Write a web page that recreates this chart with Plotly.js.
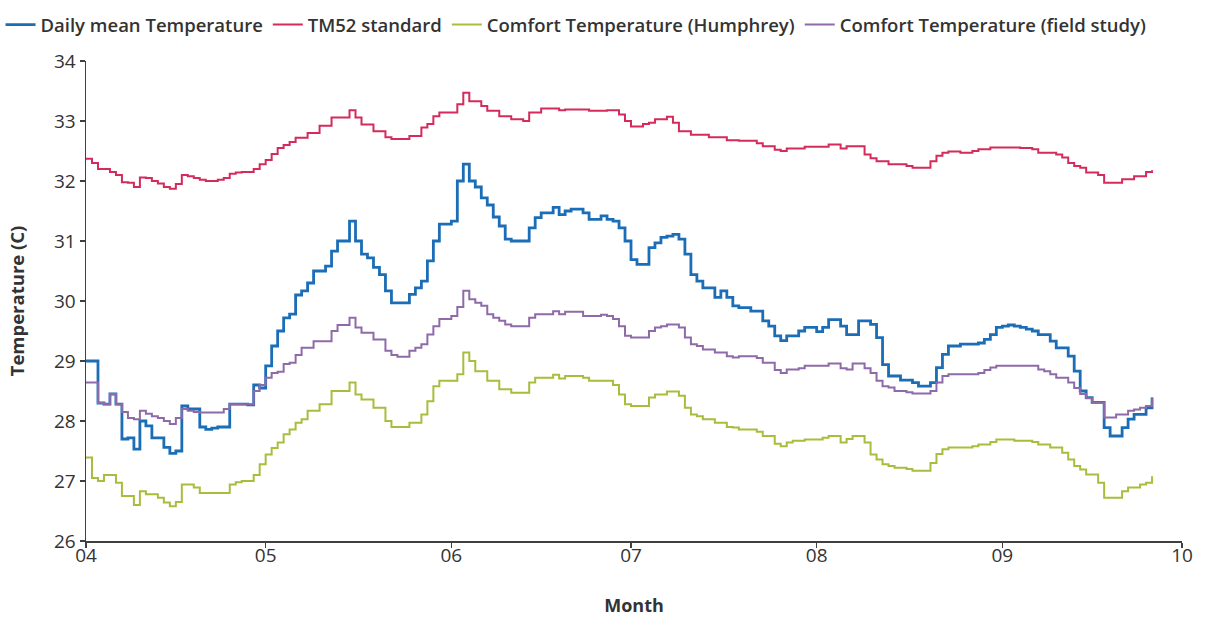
<!DOCTYPE html>
<html>
<head>
<meta charset="utf-8">
<script src="https://cdn.plot.ly/plotly-3.0.1.min.js"></script>
<style>
html,body{margin:0;padding:0;background:#fff;}
#chart{width:1232px;height:617px;}
</style>
</head>
<body>
<div id="chart"></div>
<script>
// Daily series, one value per day starting 1 April
const startDate = '2013-04-01';
const monthTicks = ['2013-04-01','2013-05-01','2013-06-01','2013-07-01','2013-08-01','2013-09-01','2013-10-01'];
const monthLabels = ['04','05','06','07','08','09','10'];

const dailyMean = [
29.0,29.0,28.3,28.28,28.45,28.28,27.7,27.72,27.53,28.0,
27.92,27.72,27.72,27.56,27.46,27.5,28.25,28.2,28.2,27.9,
27.86,27.88,27.9,27.9,28.28,28.28,28.28,28.27,28.6,28.55,
28.92,29.25,29.5,29.72,29.78,30.1,30.17,30.3,30.5,30.5,
30.58,30.83,31.0,31.0,31.33,31.0,30.78,30.72,30.56,30.44,
30.17,29.97,29.97,29.97,30.11,30.22,30.33,30.67,31.0,31.28,
31.28,31.33,32.0,32.28,32.0,31.9,31.72,31.6,31.4,31.25,
31.03,31.0,31.0,31.0,31.22,31.39,31.47,31.47,31.56,31.44,
31.5,31.53,31.53,31.47,31.36,31.36,31.42,31.36,31.33,31.22,
31.0,30.69,30.61,30.61,30.89,30.97,31.06,31.08,31.11,31.03,
30.78,30.44,30.33,30.22,30.22,30.06,30.17,30.06,29.92,29.89,
29.89,29.83,29.83,29.67,29.58,29.42,29.34,29.42,29.42,29.5,
29.56,29.56,29.49,29.56,29.69,29.69,29.58,29.44,29.44,29.67,
29.67,29.61,29.39,28.94,28.75,28.75,28.68,28.68,28.64,28.58,
28.58,28.64,28.89,29.11,29.25,29.25,29.28,29.28,29.28,29.3,
29.36,29.44,29.56,29.58,29.6,29.58,29.56,29.53,29.5,29.44,
29.44,29.33,29.22,29.22,29.08,28.83,28.5,28.39,28.31,28.31,
27.89,27.75,27.75,27.89,28.03,28.11,28.11,28.22,28.39];

const tm52 = [
32.37,32.3,32.2,32.2,32.15,32.1,31.98,31.97,31.9,32.06,
32.05,32.0,31.96,31.9,31.87,31.95,32.1,32.08,32.05,32.02,
32.0,32.0,32.02,32.05,32.12,32.14,32.15,32.15,32.2,32.28,
32.35,32.45,32.55,32.6,32.65,32.72,32.72,32.8,32.8,32.92,
32.92,33.06,33.06,33.06,33.18,33.06,32.94,32.94,32.83,32.83,
32.73,32.7,32.7,32.7,32.75,32.75,32.89,32.95,33.08,33.14,
33.14,33.14,33.28,33.47,33.33,33.33,33.25,33.17,33.17,33.08,
33.08,33.03,33.03,33.0,33.14,33.14,33.21,33.21,33.21,33.18,
33.19,33.19,33.19,33.19,33.17,33.17,33.17,33.18,33.18,33.11,
33.0,32.91,32.91,32.95,32.97,33.03,33.03,33.07,32.97,32.83,
32.83,32.77,32.77,32.77,32.73,32.73,32.73,32.68,32.68,32.67,
32.67,32.67,32.63,32.58,32.58,32.52,32.5,32.54,32.54,32.54,
32.57,32.57,32.57,32.57,32.61,32.61,32.54,32.58,32.58,32.58,
32.44,32.38,32.33,32.33,32.28,32.28,32.28,32.25,32.22,32.22,
32.22,32.33,32.42,32.47,32.49,32.49,32.47,32.47,32.5,32.53,
32.53,32.56,32.56,32.56,32.56,32.56,32.55,32.55,32.53,32.47,
32.47,32.47,32.44,32.39,32.3,32.25,32.22,32.14,32.14,32.1,
31.97,31.97,31.97,32.03,32.03,32.08,32.08,32.15,32.18];

const humphrey = [
27.39,27.05,27.0,27.1,27.1,26.97,26.75,26.75,26.6,26.83,
26.78,26.78,26.72,26.64,26.58,26.65,26.94,26.94,26.89,26.8,
26.8,26.8,26.8,26.8,26.94,26.98,27.0,27.0,27.1,27.28,
27.44,27.55,27.64,27.78,27.86,27.97,28.03,28.17,28.17,28.28,
28.28,28.5,28.5,28.5,28.64,28.44,28.36,28.36,28.22,28.22,
28.0,27.9,27.9,27.9,27.97,27.97,28.11,28.33,28.58,28.67,
28.67,28.67,28.78,29.14,29.0,28.83,28.83,28.67,28.67,28.53,
28.53,28.47,28.47,28.47,28.64,28.72,28.72,28.72,28.77,28.71,
28.75,28.75,28.75,28.72,28.67,28.67,28.67,28.67,28.6,28.44,
28.28,28.25,28.25,28.25,28.39,28.44,28.44,28.49,28.49,28.42,
28.22,28.11,28.08,28.03,28.03,27.97,27.97,27.9,27.89,27.86,
27.86,27.86,27.82,27.75,27.75,27.62,27.58,27.64,27.67,27.67,
27.69,27.69,27.69,27.72,27.75,27.75,27.64,27.7,27.75,27.75,
27.64,27.44,27.36,27.28,27.25,27.22,27.22,27.2,27.17,27.17,
27.17,27.3,27.45,27.53,27.56,27.56,27.56,27.56,27.58,27.61,
27.61,27.65,27.69,27.69,27.69,27.67,27.67,27.67,27.65,27.61,
27.61,27.56,27.56,27.47,27.36,27.25,27.19,27.11,27.11,26.97,
26.72,26.72,26.72,26.83,26.89,26.89,26.94,26.97,27.08];

const fieldStudy = [
28.64,28.64,28.3,28.28,28.45,28.28,28.15,28.05,28.03,28.17,
28.12,28.08,28.05,28.0,27.95,28.05,28.2,28.17,28.15,28.14,
28.14,28.14,28.14,28.2,28.28,28.28,28.28,28.28,28.5,28.6,
28.72,28.8,28.82,28.95,28.97,29.1,29.22,29.22,29.33,29.33,
29.33,29.5,29.6,29.6,29.72,29.56,29.47,29.47,29.36,29.36,
29.17,29.1,29.07,29.07,29.17,29.22,29.28,29.44,29.58,29.7,
29.7,29.75,29.9,30.17,30.03,29.97,29.92,29.78,29.72,29.67,
29.61,29.58,29.58,29.58,29.72,29.78,29.78,29.78,29.83,29.78,
29.82,29.82,29.82,29.75,29.75,29.75,29.77,29.75,29.7,29.58,
29.42,29.39,29.39,29.39,29.5,29.56,29.58,29.61,29.61,29.56,
29.39,29.28,29.25,29.19,29.19,29.14,29.14,29.08,29.06,29.08,
29.08,29.08,29.05,28.97,28.97,28.85,28.8,28.86,28.86,28.88,
28.92,28.92,28.92,28.92,28.96,28.96,28.88,28.86,28.96,28.96,
28.88,28.8,28.67,28.58,28.56,28.5,28.5,28.48,28.46,28.46,
28.46,28.5,28.64,28.75,28.78,28.78,28.78,28.78,28.78,28.8,
28.85,28.89,28.92,28.92,28.92,28.92,28.92,28.92,28.92,28.86,
28.83,28.78,28.72,28.72,28.64,28.55,28.45,28.38,28.31,28.31,
28.06,28.06,28.11,28.11,28.17,28.19,28.22,28.25,28.39];

// dates for each daily value
const t0 = Date.parse(startDate + 'T00:00:00Z');
const days = dailyMean.map((_, i) => new Date(t0 + i * 86400000).toISOString().slice(0, 10));

const FONT = '"Open Sans", Lato, sans-serif';
const TXT = '#333333';

const traces = [
  {name: 'Daily mean Temperature', y: dailyMean, color: '#1b6db6', width: 2.8},
  {name: 'TM52 standard', y: tm52, color: '#d42a5c', width: 2},
  {name: 'Comfort Temperature (Humphrey)', y: humphrey, color: '#a9bd3d', width: 2},
  {name: 'Comfort Temperature (field study)', y: fieldStudy, color: '#8e6aa9', width: 2}
].map(s => ({
  type: 'scatter', mode: 'lines', x: days, y: s.y, name: s.name,
  line: {color: s.color, width: s.width, shape: 'hv'}
}));

const layout = {
  width: 1232, height: 617,
  margin: {l: 86, r: 50, t: 61, b: 76, autoexpand: false},
  paper_bgcolor: '#ffffff', plot_bgcolor: '#ffffff',
  font: {family: FONT, color: TXT, size: 19},
  showlegend: true,
  legend: {
    orientation: 'h',
    x: -0.078, xanchor: 'left', y: 1.075, yanchor: 'middle',
    font: {family: FONT, size: 18.5, color: TXT, weight: 600},
    itemwidth: 30, tracegroupgap: 0, bgcolor: 'rgba(0,0,0,0)', borderwidth: 0
  },
  xaxis: {
    type: 'date', automargin: false,
    range: ['2013-04-01', '2013-10-01'],
    tickvals: monthTicks, ticktext: monthLabels,
    showgrid: false, zeroline: false,
    showline: true, linecolor: '#404040', linewidth: 1.5,
    ticks: 'outside', ticklen: 5, tickcolor: '#404040', tickwidth: 1.5,
    ticklabelstandoff: -8,
    tickfont: {family: FONT, size: 19, color: TXT},
    title: {text: 'Month', font: {family: FONT, size: 18, color: TXT, weight: 700}, standoff: 32}
  },
  yaxis: {
    automargin: false,
    range: [26, 34], dtick: 1,
    showgrid: false, zeroline: false,
    showline: true, linecolor: '#404040', linewidth: 1.5,
    ticks: 'outside', ticklen: 5, tickcolor: '#404040', tickwidth: 1.5,
    tickfont: {family: FONT, size: 19, color: TXT},
    title: {text: 'Temperature (C)', font: {family: FONT, size: 18.5, color: TXT, weight: 700}, standoff: 24}
  }
};

Plotly.newPlot('chart', traces, layout, {displayModeBar: false, staticPlot: true});
</script>
</body>
</html>
